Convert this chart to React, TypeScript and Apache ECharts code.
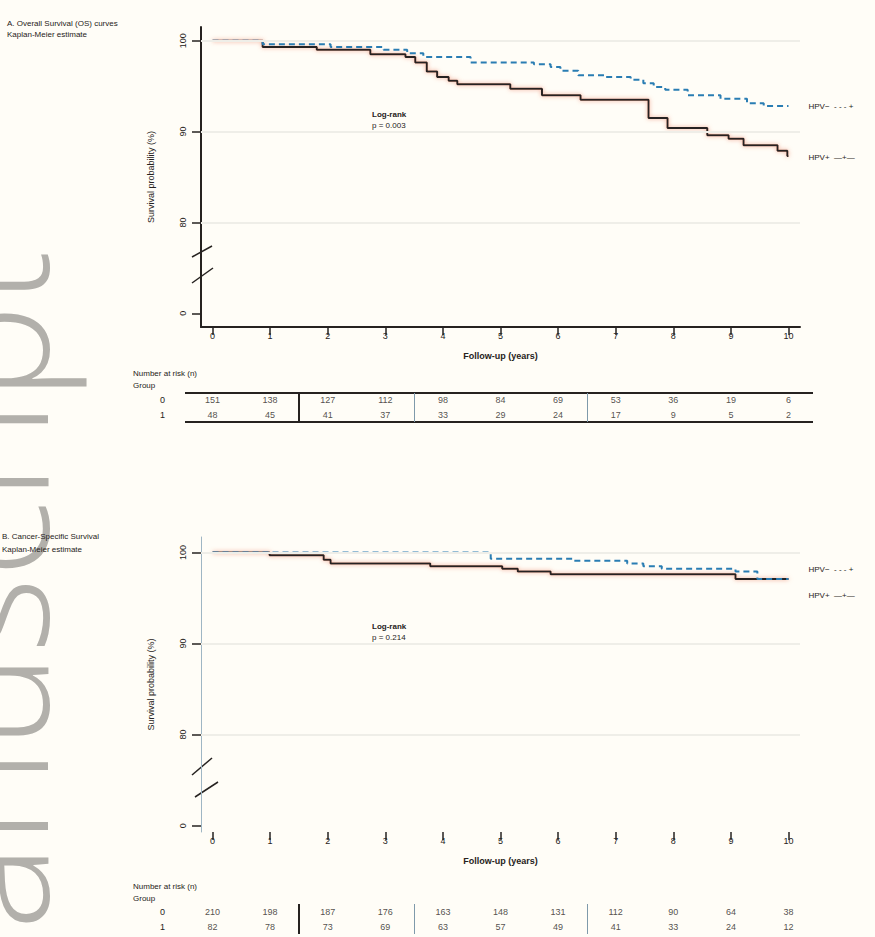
import React, { useEffect, useRef } from 'react';
import * as echarts from 'echarts';

// ---------- data ----------
const xTicks = [0, 1, 2, 3, 4, 5, 6, 7, 8, 9, 10];
const xTickLabels = ['0', '1', '2', '3', '4', '5', '6', '7', '8', '9', '10'];
const yTicks = [70, 80, 90, 100];
const yTickLabels = ['0', '80', '90', '100'];

const topDashedTime = [0, 0.87, 2.05, 2.97, 3.38, 3.66, 4.48, 5.58, 5.87, 6.04, 6.35, 6.82, 7.26, 7.48, 7.66, 7.86, 8.25, 8.82, 9.28, 9.57, 10.0];
const topDashedSurv = [100, 99.6, 99.3, 99.0, 98.6, 98.2, 97.6, 97.4, 97.1, 96.7, 96.2, 96.0, 95.7, 95.3, 94.9, 94.6, 94.0, 93.6, 93.1, 92.8, 92.8];

const topSolidTime = [0, 0.87, 1.81, 2.74, 3.35, 3.52, 3.72, 3.9, 4.1, 4.25, 5.17, 5.72, 6.39, 7.57, 7.9, 8.59, 8.96, 9.22, 9.81, 9.98, 10.0];
const topSolidSurv = [100, 99.3, 99.0, 98.5, 98.2, 97.6, 96.6, 96.0, 95.6, 95.2, 94.7, 94.0, 93.5, 91.5, 90.4, 89.6, 89.2, 88.5, 87.9, 87.3, 87.3];

const bottomDashedTime = [0, 4.83, 6.27, 7.2, 7.48, 7.8, 9.08, 9.46, 10.0];
const bottomDashedSurv = [100, 99.3, 99.1, 98.8, 98.5, 98.2, 97.9, 97.1, 97.1];

const bottomSolidTime = [0, 0.99, 1.93, 2.05, 3.78, 5.03, 5.3, 5.87, 9.08, 10.0];
const bottomSolidSurv = [100, 99.7, 99.2, 98.8, 98.5, 98.2, 97.9, 97.6, 97.1, 97.1];

const riskGroups = ['0', '1'];
const topRisk0 = [151, 138, 127, 112, 98, 84, 69, 53, 36, 19, 6];
const topRisk1 = [48, 45, 41, 37, 33, 29, 24, 17, 9, 5, 2];
const bottomRisk0 = [210, 198, 187, 176, 163, 148, 131, 112, 90, 64, 38];
const bottomRisk1 = [82, 78, 73, 69, 63, 57, 49, 41, 33, 24, 12];
const riskDividers = [1.5, 3.5, 6.5];

const dashedLabel = 'HPV−  - - - +';
const solidLabel = 'HPV+  —+—';

// ---------- helpers ----------
const zip = (t: number[], s: number[]) => t.map((v, i) => [v, s[i]]);
const BG = '#fffdf7';
const INK = '#262220';
const BLUE = '#2a7db3';
const FONT = 'Liberation Sans, Arial, sans-serif';

function chartXAxis(gridIndex: number, showLine: boolean) {
  return {
    gridIndex,
    type: 'value',
    min: -0.2,
    max: 10.2,
    axisLine: { show: showLine, onZero: false, lineStyle: { color: INK, width: 2 } },
    axisTick: { show: true, customValues: xTicks, length: 8, lineStyle: { color: INK, width: 1.5 } },
    axisLabel: {
      show: true,
      customValues: xTicks,
      margin: 4,
      fontSize: 9,
      color: INK,
      fontFamily: FONT,
      formatter: (v: number) => xTickLabels[xTicks.indexOf(Math.round(v))] ?? '',
    },
    splitLine: { show: false },
    name: 'Follow-up (years)',
    nameLocation: 'middle',
    nameGap: 24,
    nameTextStyle: { fontSize: 9, color: INK, fontFamily: FONT, fontWeight: 'bold' },
  };
}

function chartYAxis(gridIndex: number, min: number, max: number, strong: boolean) {
  return {
    gridIndex,
    type: 'value',
    min,
    max,
    axisLine: { show: true, onZero: false, lineStyle: { color: strong ? INK : '#9fb6c4', width: strong ? 2 : 1 } },
    axisTick: { show: true, customValues: yTicks, length: 9, lineStyle: { color: INK, width: 1.5 } },
    axisLabel: {
      show: true,
      customValues: yTicks,
      rotate: 90,
      margin: 14,
      fontSize: 9,
      color: INK,
      fontFamily: FONT,
      formatter: (v: number) => yTickLabels[yTicks.indexOf(Math.round(v))] ?? '',
    },
    splitLine: { show: false },
    name: 'Survival probability (%)',
    nameLocation: 'middle',
    nameGap: 46,
    nameRotate: 90,
    nameTextStyle: { fontSize: 9, color: INK, fontFamily: FONT },
  };
}

function tableAxes(gridIndex: number) {
  return {
    x: { gridIndex, type: 'value', min: -0.2, max: 10.2, show: false },
    y: {
      gridIndex,
      type: 'category',
      data: riskGroups,
      inverse: true,
      axisLine: { show: false },
      axisTick: { show: false },
      splitLine: { show: false },
      axisLabel: { margin: 36, fontSize: 9, color: INK, fontFamily: FONT },
    },
  };
}

function tableSeries(axisIndex: number, r0: number[], r1: number[], withDividers: boolean) {
  const data = [
    ...xTicks.map((x, i) => [x, 0, r0[i]]),
    ...xTicks.map((x, i) => [x, 1, r1[i]]),
  ];
  const s: any = {
    type: 'scatter',
    xAxisIndex: axisIndex,
    yAxisIndex: axisIndex,
    data,
    symbolSize: 1,
    itemStyle: { color: 'rgba(0,0,0,0)' },
    silent: true,
    label: {
      show: true,
      position: 'inside',
      fontSize: 9,
      color: INK,
      fontFamily: FONT,
      formatter: (p: any) => String(p.value[2]),
    },
  };
  if (withDividers) {
    s.markLine = {
      silent: true,
      symbol: 'none',
      label: { show: false },
      data: riskDividers.map((d, i) => ({
        xAxis: d,
        lineStyle: { color: i === 0 ? INK : '#7f9aab', width: i === 0 ? 2 : 1, type: 'solid' },
      })),
    };
  }
  return s;
}

function kmSeries(xi: number, data: number[][], dashed: boolean, label: string, offsetY: number, gridLines: boolean) {
  const s: any = {
    type: 'line',
    xAxisIndex: xi,
    yAxisIndex: xi,
    step: 'end',
    data,
    showSymbol: false,
    silent: true,
    z: dashed ? 4 : 3,
    lineStyle: dashed
      ? { color: BLUE, width: 2, type: [6, 4] }
      : { color: INK, width: 2, shadowColor: 'rgba(235,120,90,0.7)', shadowBlur: 4 },
    endLabel: {
      show: true,
      formatter: label,
      distance: 20,
      offset: [0, offsetY],
      fontSize: 8,
      color: INK,
      fontFamily: FONT,
    },
  };
  if (gridLines) {
    s.markLine = {
      silent: true,
      symbol: 'none',
      label: { show: false },
      lineStyle: { color: '#efeee8', width: 2, type: 'solid' },
      data: [{ yAxis: 80 }, { yAxis: 90 }, { yAxis: 100 }],
    };
  }
  return s;
}

function txt(x: number, y: number, text: string, size = 8, weight: any = 'normal') {
  return {
    type: 'text',
    x,
    y,
    silent: true,
    style: { text, fontSize: size, fontWeight: weight, fill: INK, fontFamily: FONT, textVerticalAlign: 'middle' },
  };
}

function ln(x1: number, y1: number, x2: number, y2: number, w = 1.5, c = INK) {
  return { type: 'line', silent: true, shape: { x1, y1, x2, y2 }, style: { stroke: c, lineWidth: w } };
}

export default function App() {
  const ref = useRef<HTMLDivElement>(null);
  useEffect(() => {
    if (!ref.current) return;
    const chart = echarts.init(ref.current, undefined, { renderer: 'svg' });
    const t1 = tableAxes(1);
    const t3 = tableAxes(3);
    const option: any = {
      animation: false,
      backgroundColor: BG,
      grid: [
        { left: 201, right: 75, top: 27, height: 300 },
        { left: 201, right: 75, top: 393, height: 29 },
        { left: 201, right: 75, top: 537, height: 295 },
        { left: 201, right: 75, top: 904, height: 30 },
      ],
      xAxis: [chartXAxis(0, true), t1.x, chartXAxis(2, false), t3.x],
      yAxis: [chartYAxis(0, 68.5, 101.5, true), t1.y, chartYAxis(2, 69.3, 101.7, false), t3.y],
      series: [
        kmSeries(0, zip(topSolidTime, topSolidSurv), false, solidLabel, 1, true),
        kmSeries(0, zip(topDashedTime, topDashedSurv), true, dashedLabel, 0, false),
        kmSeries(2, zip(bottomSolidTime, bottomSolidSurv), false, solidLabel, 17, true),
        kmSeries(2, zip(bottomDashedTime, bottomDashedSurv), true, dashedLabel, -9, false),
        tableSeries(1, topRisk0, topRisk1, true),
        tableSeries(3, bottomRisk0, bottomRisk1, true),
      ],
      graphic: [
        {
          type: 'text',
          x: 66,
          y: 930,
          rotation: Math.PI / 2,
          z: -10,
          silent: true,
          style: {
            text: 'anuscript',
            fontSize: 162,
            fontWeight: 300,
            fontFamily: 'Open Sans, sans-serif',
            fill: '#b2b0ab',
            textAlign: 'left',
            textVerticalAlign: 'bottom',
          },
        },
        txt(7, 23, 'A. Overall Survival (OS) curves', 8),
        txt(7, 34, 'Kaplan-Meier estimate', 8),
        txt(2, 536, 'B. Cancer-Specific Survival', 8),
        txt(2, 549, 'Kaplan-Meier estimate', 8),
        txt(372, 114, 'Log-rank', 8, 'bold'),
        txt(372, 125, 'p = 0.003', 8),
        txt(372, 626, 'Log-rank', 8, 'bold'),
        txt(372, 637, 'p = 0.214', 8),
        txt(133, 373, 'Number at risk (n)', 8),
        txt(133, 385, 'Group', 8),
        txt(133, 886, 'Number at risk (n)', 8),
        txt(133, 898, 'Group', 8),
        ln(185, 393, 813, 393, 2),
        ln(185, 422, 813, 422, 2),
        ln(192, 257, 212, 246, 1.5),
        ln(192, 283, 213, 268, 1.5),
        ln(192, 775, 212, 758, 1.5),
        ln(195, 797, 218, 782, 1.5),
      ],
    };
    chart.setOption(option);
    return () => chart.dispose();
  }, []);
  return (
    <div
      ref={ref}
      style={{ position: 'absolute', left: 0, top: 0, width: 875, height: 937, background: BG, overflow: 'hidden' }}
    />
  );
}
